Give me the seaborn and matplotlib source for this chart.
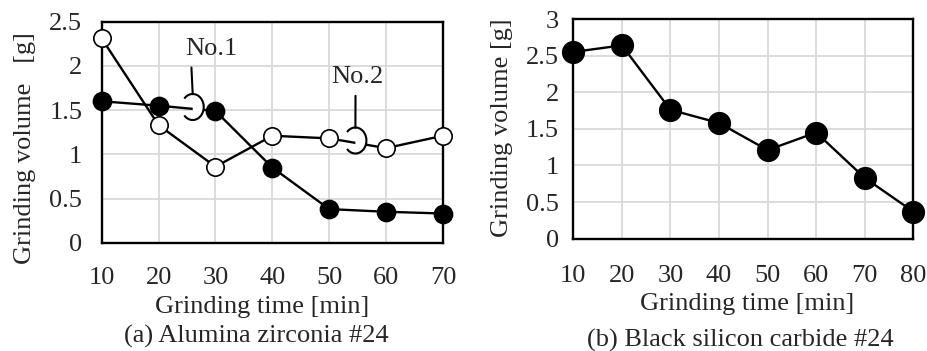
import numpy as np
import pandas as pd
import matplotlib
matplotlib.use("Agg")
import matplotlib.pyplot as plt
import matplotlib.transforms as mtransforms
from matplotlib.patches import Arc, Wedge
import seaborn as sns

# ---- data ----
time_a = [10, 20, 30, 40, 50, 60, 70]
no1_a = [1.60, 1.55, 1.49, 0.85, 0.38, 0.35, 0.33]
no2_a = [2.31, 1.33, 0.86, 1.21, 1.18, 1.07, 1.21]
time_b = [10, 20, 30, 40, 50, 60, 70, 80]
vol_b = [2.55, 2.64, 1.76, 1.58, 1.21, 1.45, 0.83, 0.37]
yticks_a = [0, 0.5, 1, 1.5, 2, 2.5]
yticks_b = [0, 0.5, 1, 1.5, 2, 2.5, 3]
ytick_labels_a = ["0", "0.5", "1", "1.5", "2", "2.5"]
ytick_labels_b = ["0", "0.5", "1", "1.5", "2", "2.5", "3"]

sns.set_theme(style="white")
plt.rcParams['font.family'] = ['Liberation Serif', 'DejaVu Serif']

W, H = 928, 351
fig = plt.figure(figsize=(W / 100, H / 100), dpi=100)

def px_axes(l, r, t, b):
    return fig.add_axes([l / W, 1 - b / H, (r - l) / W, (b - t) / H])

axA = px_axes(101.7, 443, 21.7, 242.7)
axB = px_axes(573.3, 913.3, 19, 238.7)

FS = 19
grid_c = "#d9d9d9"

def style(ax, xt, yt, ytl, ylim, xpad, ypad):
    ax.set_xlim(xt[0], xt[-1])
    ax.set_ylim(*ylim)
    ax.set_xticks(xt)
    ax.set_xticklabels([str(v) for v in xt], fontsize=FS)
    ax.set_yticks(yt)
    ax.set_yticklabels(ytl, fontsize=FS)
    ax.tick_params(axis='both', length=0)
    ax.tick_params(axis='x', pad=xpad)
    ax.tick_params(axis='y', pad=ypad)
    ax.grid(True, color=grid_c, linewidth=1.3)
    ax.set_axisbelow(True)
    for s in ax.spines.values():
        s.set_color("black")
        s.set_linewidth(1.7)
    ax.set_xlabel("")
    ax.set_ylabel("")
    if ax.get_legend():
        ax.get_legend().remove()

dfA1 = pd.DataFrame({"t": time_a, "v": no1_a})
dfA2 = pd.DataFrame({"t": time_a, "v": no2_a})
dfB = pd.DataFrame({"t": time_b, "v": vol_b})

sns.lineplot(data=dfA1, x="t", y="v", ax=axA, color="black", linewidth=1.7,
             marker="o", markersize=13, markerfacecolor="black",
             markeredgecolor="black", markeredgewidth=1.2, clip_on=False, zorder=4)
sns.lineplot(data=dfA2, x="t", y="v", ax=axA, color="black", linewidth=1.7,
             marker="o", markersize=12.5, markerfacecolor="white",
             markeredgecolor="black", markeredgewidth=1.2, clip_on=False, zorder=5)
sns.lineplot(data=dfB, x="t", y="v", ax=axB, color="black", linewidth=1.7,
             marker="o", markersize=15.5, markerfacecolor="black",
             markeredgecolor="black", markeredgewidth=1.2, clip_on=False, zorder=4)

style(axA, time_a, yticks_a, ytick_labels_a, (0, 2.5), 17.5, 14)
style(axB, time_b, yticks_b, ytick_labels_b, (0, 3), 19.0, 10.5)

# callouts
def callout(ax, cx, cy, label, tx, ty, top_y, relx):
    trans = fig.dpi_scale_trans + mtransforms.ScaledTranslation(cx, cy, ax.transData)
    ax.add_patch(Wedge((0, 0), 0.115, -90, 90, transform=trans,
                       facecolor="white", edgecolor="none", zorder=6, clip_on=False))
    ax.add_patch(Arc((0, 0), 0.22, 0.26, theta1=-135, theta2=135, transform=trans,
                     color="black", linewidth=1.5, zorder=7, clip_on=False))
    ax.annotate(label, xy=(cx, top_y), xytext=(tx, ty), textcoords="data",
                ha="center", va="center", fontsize=FS, zorder=8,
                arrowprops=dict(arrowstyle="-", color="black", lw=1.5,
                                relpos=(relx, 0), shrinkA=3, shrinkB=0))

callout(axA, 26.0, 1.535, "No.1", 29.2, 2.19, 1.68, 0.12)
callout(axA, 54.6, 1.156, "No.2", 54.9, 1.87, 1.30, 0.47)

# axis labels and captions
fig.text(25 / W, 1 - 148 / H, "Grinding volume   [g]", rotation=90,
         ha="center", va="center", fontsize=FS)
fig.text(502 / W, 1 - 128 / H, "Grinding volume [g]", rotation=90,
         ha="center", va="center", fontsize=FS)
fig.text(262.5 / W, 1 - 313 / H, "Grinding time [min]", ha="center", va="baseline", fontsize=FS)
fig.text(746.7 / W, 1 - 310 / H, "Grinding time [min]", ha="center", va="baseline", fontsize=FS)
fig.text(256.7 / W, 1 - 342.7 / H, "(a) Alumina zirconia #24", ha="center", va="baseline", fontsize=FS)
fig.text(740 / W, 1 - 346.7 / H, "(b) Black silicon carbide #24", ha="center", va="baseline", fontsize=FS)

fig.savefig("out.png", dpi=100, facecolor="white")
